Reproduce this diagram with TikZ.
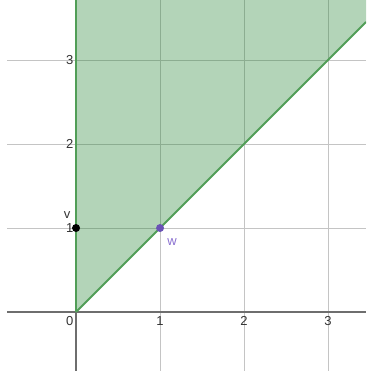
\documentclass[tikz,border=0pt]{standalone}
\usepackage{fontspec}
\setmainfont{Liberation Sans}
\definecolor{gridc}{HTML}{C4C4C4}
\definecolor{axisc}{HTML}{6E6E6E}
\definecolor{fillg}{HTML}{268434}
\definecolor{lineg}{HTML}{519E57}
\definecolor{wdot}{HTML}{6A52B5}
\definecolor{wlab}{HTML}{8A70D0}
\tikzset{
  gridline/.style={draw=gridc, line width=0.9pt},
  axisline/.style={draw=axisc, line width=1.6pt},
  boundary/.style={draw=lineg, line width=1.9pt},
  ticklab/.style={font=\fontsize{13}{15}\selectfont, text=black!80, inner sep=0pt},
}
\begin{document}
\begin{tikzpicture}[x=84pt,y=84pt]
\useasboundingbox (-0.905,-0.702) rectangle (3.452,3.714);
\clip (-0.905,-0.702) rectangle (3.452,3.714);
% grid
\foreach \i in {1,2,3} {
  \draw[gridline] (\i,-0.702) -- (\i,3.714);
  \draw[gridline] (-0.82,\i) -- (3.452,\i);
}
% axes
\draw[axisline] (-0.82,0) -- (3.452,0);
\draw[axisline] (0,-0.702) -- (0,3.714);
% fill region
\fill[fillg, fill opacity=0.35] (0,0) -- (0,3.714) -- (3.452,3.714) -- (3.452,3.452) -- cycle;
% boundary
\coordinate (O) at (0,0);
\coordinate (T) at (0,3.714);
\coordinate (R) at (3.452,3.452);
\draw[boundary] (O) -- (T);
\draw[boundary] (O) -- (R);
% tick labels
\foreach \i in {1,2,3} {
  \node[ticklab, anchor=north] at (\i,-0.05) {\i};
  \node[ticklab, anchor=east] at (-0.03,\i) {\i};
}
\node[ticklab, anchor=north east] (zero) at (-0.03,-0.05) {0};
% points
\node[circle, fill=black, inner sep=0pt, minimum size=8pt] (v) at (0,1) {};
\node[circle, fill=wdot, inner sep=0pt, minimum size=8pt] (w) at (1,1) {};
\node[ticklab] (vl) at (-0.107,1.16) {v};
\node[ticklab, text=wlab] (wl) at (1.143,0.83) {w};
\end{tikzpicture}
\end{document}
